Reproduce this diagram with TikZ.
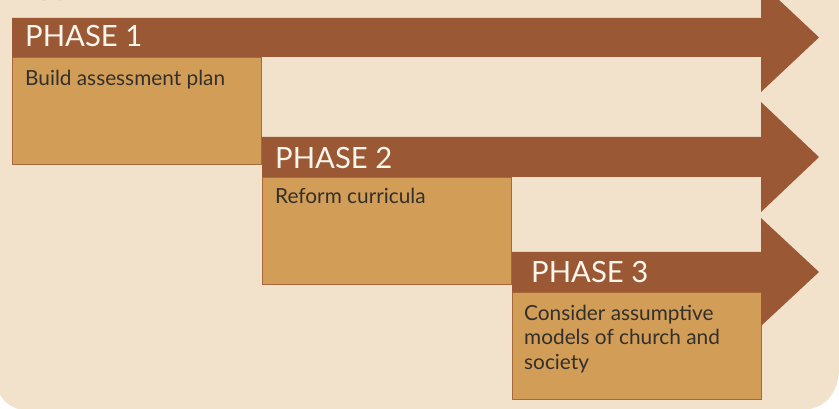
\documentclass[tikz,border=0pt]{standalone}
\usepackage{fontspec}
\setmainfont{Lato}
\definecolor{bg}{HTML}{F2E2CC}
\definecolor{band}{HTML}{9A5834}
\definecolor{boxfill}{HTML}{D29D57}
\definecolor{boxline}{HTML}{A9683C}
\definecolor{phasetext}{HTML}{FDF6EC}
\definecolor{bodytext}{HTML}{33302C}
\definecolor{figtext}{HTML}{8C8580}
\begin{document}
\begin{tikzpicture}[x=1pt,y=-1pt,
  arrowband/.style={fill=band},
  stepbox/.style={draw=boxline, line width=1pt, fill=boxfill, anchor=north west,
    minimum width=249pt, minimum height=107pt, inner sep=0pt},
  phaselabel/.style={font=\fontsize{29.3}{30}\selectfont, text=phasetext, anchor=base west, inner sep=0pt},
  bodylabel/.style={font=\fontsize{20.8}{24.5}\selectfont, text=bodytext, anchor=base west, inner sep=0pt, align=left}]
\useasboundingbox (0,0) rectangle (839,409);
\fill[white] (0,0) rectangle (839,409);
\fill[bg] (-4,-10) -- (-4,380) .. controls (-4,396.5) and (9.5,410) .. (26,410)
  -- (800,410) .. controls (826,410) and (839,392) .. (839,368) -- (839,-10) -- cycle;
% cut-off caption at top
\node[font=\bfseries\fontsize{24}{26}\selectfont, text=figtext, anchor=base west, inner sep=0pt] (fig) at (13,0.5) {FIGURE 1};
% boxes
\node[stepbox] (b1) at (12,57) {};
\node[stepbox] (b2) at (262,177) {};
\node[stepbox] (b3) at (512,292) {};
% arrows
\fill[arrowband] (12,18) -- (761,18) -- (761,-17) -- (819,37.5) -- (761,92) -- (761,57) -- (12,57) -- cycle;
\fill[arrowband] (262,137) -- (761,137) -- (761,102) -- (819,157) -- (761,212) -- (761,177) -- (262,177) -- cycle;
\fill[arrowband] (512,252) -- (761,252) -- (761,218) -- (819,272) -- (761,326) -- (761,292) -- (512,292) -- cycle;
% labels
\node[phaselabel] (p1) at (25,47) {PHASE 1};
\node[phaselabel] (p2) at (275,169) {PHASE 2};
\node[phaselabel] (p3) at (531,283) {PHASE 3};
\node[bodylabel] (t1) at (25,86) {Build assessment plan};
\node[bodylabel] (t2) at (275,204) {Reform curricula};
\node[bodylabel] (t3) at (524,369) {Consider assumptive\\models of church and\\society};
\end{tikzpicture}
\end{document}
